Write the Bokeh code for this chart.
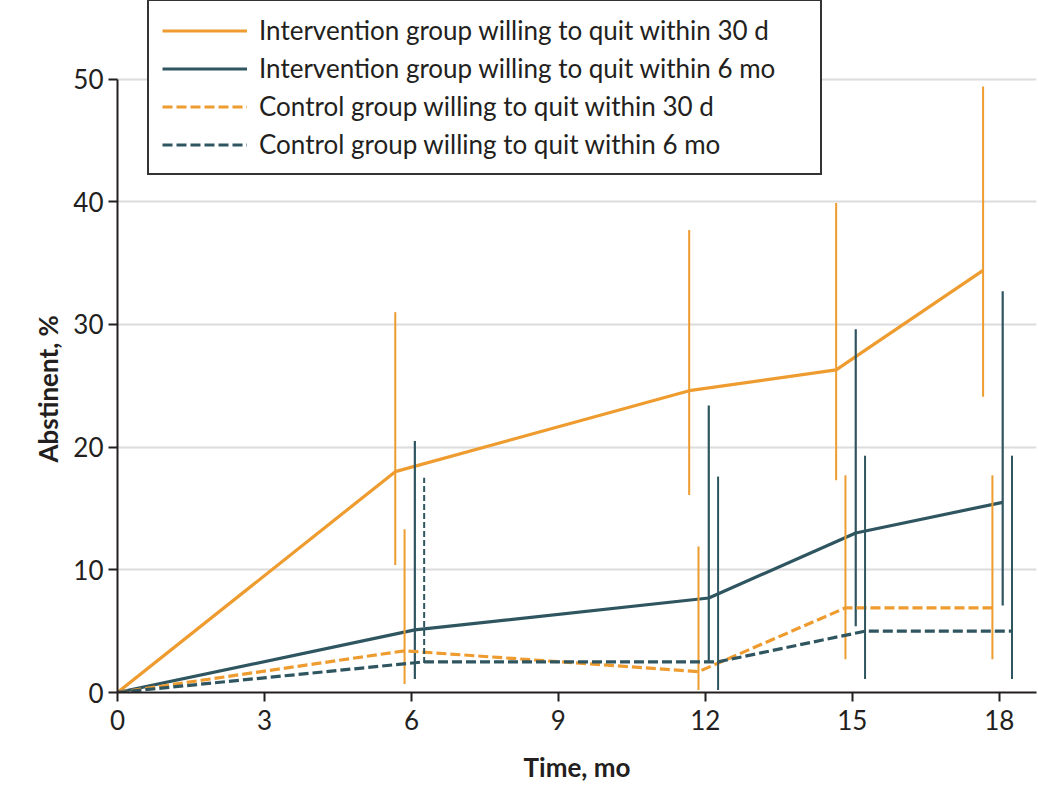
from bokeh.plotting import figure
from bokeh.models import (ColumnDataSource, Legend, LegendItem, FixedTicker,
                          Range1d, CDSView, IndexFilter, Title)
from bokeh.embed import file_html
from bokeh.resources import INLINE

# Follow-up visits (months) and abstinence rates (%) with 95% CIs
months = [0, 6, 12, 15, 18]
tick_months = [0, 3, 6, 9, 12, 15, 18]
tick_pct = [0, 10, 20, 30, 40, 50]

int30_est = [0, 18.0, 24.6, 26.3, 34.4]
int30_lo = [10.4, 16.1, 17.3, 24.1]
int30_hi = [31.0, 37.7, 39.9, 49.4]

int6_est = [0, 5.1, 7.7, 13.0, 15.5]
int6_lo = [1.1, 2.5, 5.4, 7.1]
int6_hi = [20.5, 23.4, 29.6, 32.7]

ctl30_est = [0, 3.4, 1.7, 6.9, 6.9]
ctl30_lo = [0.7, 0.2, 2.7, 2.7]
ctl30_hi = [13.3, 11.9, 17.7, 17.7]

ctl6_est = [0, 2.5, 2.5, 5.0, 5.0]
ctl6_lo = [2.4, 0.2, 1.1, 1.1]
ctl6_hi = [17.5, 17.6, 19.3, 19.3]

labels = [
    "Intervention group willing to quit within 30 d",
    "Intervention group willing to quit within 6 mo",
    "Control group willing to quit within 30 d",
    "Control group willing to quit within 6 mo",
]

ORANGE = "#EE9C30"
TEAL = "#2F5660"
INK = "#231F20"
FONT = "Lato"
FS = "26px"

# headroom above 50 % holds the legend box
p = figure(width=1038, height=785, output_backend="svg", toolbar_location=None,
           x_range=Range1d(0, 18.76), y_range=Range1d(0, 56.4),
           min_border_left=117, min_border_right=2, min_border_top=0,
           min_border_bottom=93)
p.outline_line_color = None
p.background_fill_color = "white"

# horizontal offset (dodge) of each series so the CIs don't overlap
series = [
    (int30_est, int30_lo, int30_hi, -0.33, ORANGE, "solid", 2.0),
    (int6_est, int6_lo, int6_hi, 0.07, TEAL, "solid", 2.2),
    (ctl30_est, ctl30_lo, ctl30_hi, -0.14, ORANGE, "10 4", 2.0),
    (ctl6_est, ctl6_lo, ctl6_hi, 0.26, TEAL, "10 4", 2.0),
]

line_renderers = []
for i, (est, lo, hi, off, color, dash, bar_w) in enumerate(series):
    xs = [0] + [m + off for m in months[1:]]
    bars = ColumnDataSource(dict(x=xs[1:], lo=lo, hi=hi))
    if i == 3:
        # first CI of this series is drawn dashed, the rest solid
        p.segment(x0="x", x1="x", y0="lo", y1="hi", source=bars,
                  view=CDSView(filter=IndexFilter([0])),
                  line_color=color, line_width=bar_w, line_dash="6 3")
        p.segment(x0="x", x1="x", y0="lo", y1="hi", source=bars,
                  view=CDSView(filter=IndexFilter([1, 2, 3])),
                  line_color=color, line_width=bar_w)
    else:
        p.segment(x0="x", x1="x", y0="lo", y1="hi", source=bars,
                  line_color=color, line_width=bar_w)
    src = ColumnDataSource(dict(x=xs, y=est))
    r = p.line("x", "y", source=src, line_color=color, line_width=3.2,
               line_dash=dash, line_join="round")
    line_renderers.append(r)

# axes
for ax in (p.xaxis[0], p.yaxis[0]):
    ax.axis_line_color = INK
    ax.axis_line_width = 2
    ax.major_tick_line_color = INK
    ax.major_tick_line_width = 2
    ax.major_tick_in = 0
    ax.major_tick_out = 9
    ax.minor_tick_line_color = None
    ax.major_label_text_font = FONT
    ax.major_label_text_font_size = FS
    ax.major_label_text_color = INK
    ax.axis_label_text_font = FONT
    ax.axis_label_text_font_size = FS
    ax.axis_label_text_font_style = "bold"
    ax.axis_label_text_color = INK

p.xaxis.ticker = FixedTicker(ticks=tick_months)
p.yaxis.ticker = FixedTicker(ticks=tick_pct)
p.yaxis.bounds = (0, 50)
p.xaxis.axis_label = "Time, mo"
p.xaxis.major_label_standoff = 8
p.yaxis.major_label_standoff = 5
p.xaxis.axis_label_standoff = 18

# y-axis title, placed along the 0-50 span of the axis rather than the frame
ytitle = Title(text="Abstinent, %", align="left", offset=230, standoff=14,
               text_font=FONT, text_font_size=FS, text_font_style="bold",
               text_color=INK)
p.add_layout(ytitle, "left")

p.xgrid.grid_line_color = None
p.ygrid.grid_line_color = "#DCDCDE"
p.ygrid.grid_line_width = 2
p.ygrid.ticker = FixedTicker(ticks=tick_pct)

legend = Legend(
    items=[LegendItem(label=lab, renderers=[r]) for lab, r in zip(labels, line_renderers)],
    location=(30, 517),
    label_text_font=FONT, label_text_font_size=FS, label_text_color=INK,
    glyph_width=85, glyph_height=31, label_height=31, label_width=548,
    spacing=6, padding=13, label_standoff=12,
    border_line_color="#333333", border_line_width=2, border_line_alpha=1.0,
    background_fill_color="white", background_fill_alpha=1.0, margin=0,
)
p.add_layout(legend)

open("out.html", "w").write(file_html(p, INLINE))
